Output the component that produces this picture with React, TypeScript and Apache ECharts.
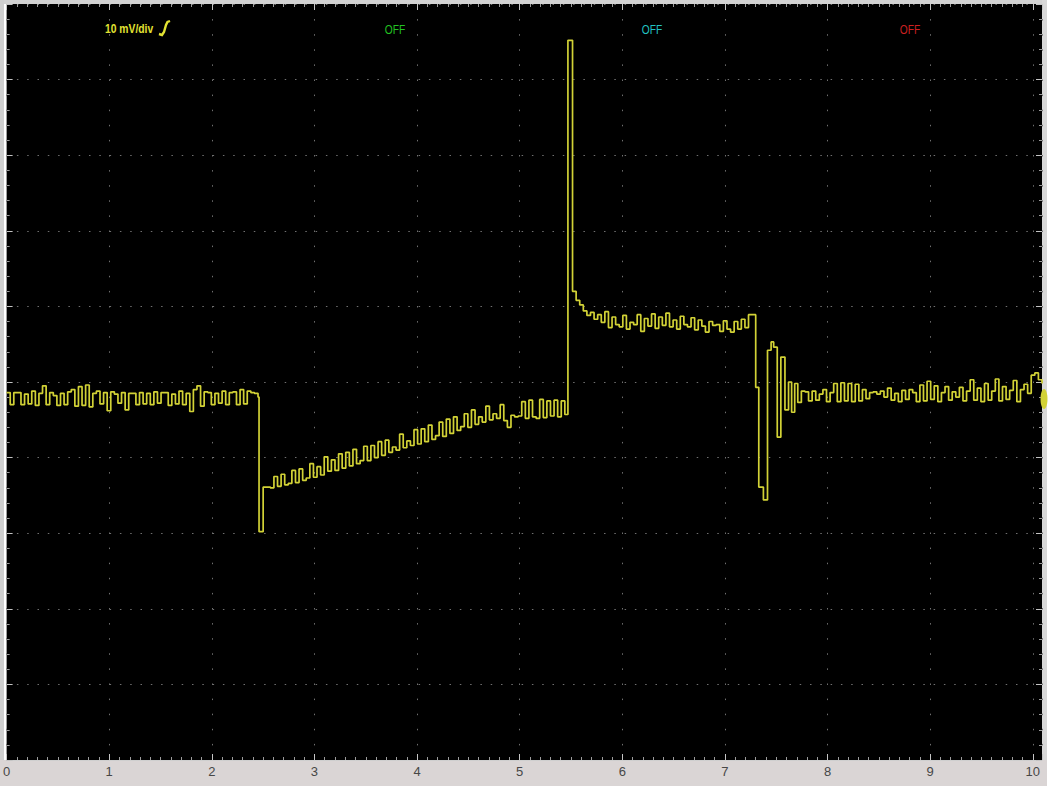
import React, { useEffect, useRef } from "react";
import * as echarts from "echarts";

// ---- data (time in divisions, amplitude in mV; 10 mV/div) ----
const seg1Start = 0;
const seg1Step = 0.035;
const seg1Values = [
  -1.4, -3.0, -1.4, -1.4, -3.0, -1.6, -2.9, -1.2, -3.1, -1.5,
  -0.5, -3.0, -1.4, -1.8, -3.1, -1.5, -3.0, -1.3, -1.0, -3.2,
  -0.6, -3.1, -0.4, -3.3, -1.5, -1.2, -2.9, -1.4, -3.8, -1.3,
  -1.6, -2.8, -1.4, -3.7, -1.5, -1.5, -3.0, -1.4, -2.9, -1.5,
  -3.0, -1.3, -2.8, -1.4, -1.4, -3.1, -1.6, -2.9, -1.2, -3.0,
  -1.5, -3.9, -1.0, -0.5, -3.2, -1.3, -1.4, -3.0, -1.5, -2.8,
  -1.2, -3.0, -1.4, -1.3, -3.0, -1.0, -2.9, -1.2, -1.4, -1.5,
  -2.0,
];
const dipTimes = [2.46, 2.5];
const dipValues = [-19.8, -13.9];
const rampStart = 2.535;
const rampStep = 0.035;
const rampValues = [
  -13.9, -14.0, -12.5, -13.8, -12.2, -13.6, -13.4, -11.7, -13.3, -11.5,
  -13.0, -12.7, -10.8, -12.6, -11.2, -12.3, -9.9, -11.8, -10.3, -11.7,
  -9.5, -11.4, -9.3, -11.1, -8.9, -10.8, -10.4, -8.5, -10.4, -8.4,
  -10.0, -7.9, -9.7, -7.7, -9.3, -8.6, -9.0, -6.9, -8.7, -7.8,
  -8.4, -6.3, -8.2, -6.2, -7.9, -5.7, -7.6, -7.1, -5.3, -7.2,
  -4.9, -6.8, -4.6, -6.4, -5.9, -4.2, -6.0, -3.7, -5.6, -4.6,
  -5.3, -3.2, -5.0, -4.2, -4.8, -3.0, -5.1, -6.0, -4.4, -4.6,
  -4.5, -2.6, -4.8, -2.4, -4.6, -4.8, -2.3, -4.7, -2.5, -4.5,
  -2.4, -4.6, -2.5, -4.3,
];
const spikeTimes = [5.47];
const spikeValues = [45.2];
const plateauStart = 5.515;
const plateauStep = 0.035;
const plateauValues = [
  12.0, 10.8, 10.2, 9.4, 8.8, 9.2, 8.3, 8.9, 7.9, 9.3,
  7.2, 8.6, 7.6, 7.3, 8.8, 7.0, 7.9, 7.6, 8.9, 6.7,
  8.4, 7.4, 9.0, 7.1, 8.6, 7.5, 9.1, 7.3, 8.2, 7.0,
  8.7, 7.6, 7.3, 8.5, 6.9, 8.2, 7.4, 6.6, 8.0, 7.5,
  7.6, 6.7, 8.1, 7.0, 6.6, 8.0, 7.0, 8.3, 7.2, 8.9,
  8.9,
];
const ringTimes = [7.3, 7.33, 7.375, 7.415, 7.45, 7.475, 7.51, 7.545, 7.585, 7.62, 7.65, 7.68, 7.71, 7.745];
const ringValues = [-0.7, -13.9, -15.6, 4.2, 5.3, 4.6, -7.3, 3.3, -3.7, 0.0, -4.0, -0.2, -2.7, -1.2];
const tailStart = 7.78;
const tailStep = 0.035;
const tailValues = [
  -1.3, -2.5, -1.2, -2.4, -1.6, -1.0, -2.6, -1.4, -0.2, -2.6,
  -0.1, -2.5, -0.2, -2.6, -0.3, -2.5, -1.0, -2.2, -1.4, -1.3,
  -1.6, -1.2, -2.0, -0.8, -2.4, -1.5, -2.6, -1.1, -2.3, -1.0,
  -1.4, -2.6, -0.4, -2.5, 0.1, -2.3, -0.5, -2.6, -1.4, -0.6,
  -2.4, -1.3, -2.0, -0.7, -2.5, -1.2, 0.3, -2.4, -0.8, -2.6,
  -0.2, -2.4, -1.2, 0.4, -2.5, -0.6, -2.3, -1.1, 0.2, -2.6,
  -1.0, -0.3, -1.5, 0.9, 1.2, 0.3, -0.2,
];
const xTickLabels = ["0", "1", "2", "3", "4", "5", "6", "7", "8", "9", "10"];
const scaleLabel = "10 mV/div";
const channelLabels = ["OFF", "OFF", "OFF"];
const channelColors = ["#22c322", "#22c3c3", "#cc2020"];

function seg(start: number, step: number, vals: number[]) {
  return vals.map((v, i) => [+(start + i * step).toFixed(4), v]);
}
function pairs(ts: number[], vs: number[]) {
  return ts.map((t, i) => [t, vs[i]]);
}

const traceData = [
  ...seg(seg1Start, seg1Step, seg1Values),
  ...pairs(dipTimes, dipValues),
  ...seg(rampStart, rampStep, rampValues),
  ...pairs(spikeTimes, spikeValues),
  ...seg(plateauStart, plateauStep, plateauValues),
  ...pairs(ringTimes, ringValues),
  ...seg(tailStart, tailStep, tailValues),
];

const NARROW = "'Liberation Sans Narrow', 'Arial Narrow', 'Liberation Sans', Arial, sans-serif";

export default function App() {
  const ref = useRef<HTMLDivElement>(null);
  useEffect(() => {
    if (!ref.current) return;
    const chart = echarts.init(ref.current, undefined, { renderer: "svg" });
    const tickStyle = { color: "#c4c4c4", width: 1 };
    const minorStyle = { color: "#9c9c9c", width: 1 };
    const option: any = {
      animation: false,
      backgroundColor: "#ffffff",
      grid: { left: 4, top: 4, width: 1038, height: 756, show: true, backgroundColor: "#000000", borderWidth: 0 },
      xAxis: [
        {
          type: "value", min: 0, max: 10.09, interval: 1, position: "bottom",
          axisLine: { show: true, onZero: false, lineStyle: { color: "#cfcfcf", width: 1 } },
          axisTick: { show: true, inside: true, length: 6, lineStyle: tickStyle },
          minorTick: { show: true, splitNumber: 10, length: 3, lineStyle: minorStyle },
          axisLabel: {
            margin: 5, color: "#474747", fontSize: 13, fontFamily: NARROW,
            formatter: (v: number) => {
              const r = Math.round(v);
              return Math.abs(v - r) < 1e-6 && r >= 0 && r <= 10 ? xTickLabels[r] : "";
            },
          },
          splitLine: { show: true, lineStyle: { color: "#707070", width: 1, type: [1.5, 13.6] } },
        },
        {
          type: "value", min: 0, max: 10.09, interval: 1, position: "top",
          axisLine: { show: false, onZero: false },
          axisTick: { show: true, inside: true, length: 6, lineStyle: tickStyle },
          minorTick: { show: true, splitNumber: 10, length: 3, lineStyle: minorStyle },
          axisLabel: { show: false },
          splitLine: { show: false },
        },
      ],
      yAxis: [
        {
          type: "value", min: -50, max: 50, interval: 10, position: "left",
          axisLine: { show: false, onZero: false },
          axisTick: { show: true, inside: true, length: 6, lineStyle: tickStyle },
          minorTick: { show: true, splitNumber: 5, length: 3, lineStyle: minorStyle },
          axisLabel: { show: false },
          splitLine: { show: true, lineStyle: { color: "#707070", width: 1, type: [1.5, 8.8] } },
        },
        {
          type: "value", min: -50, max: 50, interval: 10, position: "right",
          axisLine: { show: false, onZero: false },
          axisTick: { show: true, inside: true, length: 6, lineStyle: tickStyle },
          minorTick: { show: true, splitNumber: 5, length: 3, lineStyle: minorStyle },
          axisLabel: { show: false },
          splitLine: { show: false },
        },
      ],
      series: [
        {
          type: "line", xAxisIndex: 0, yAxisIndex: 0, step: "end",
          showSymbol: false, symbol: "none", clip: true,
          data: traceData,
          lineStyle: { color: "#d2d236", width: 1.7 },
          z: 5,
        },
      ],
      graphic: [
        { type: "rect", shape: { x: 0, y: 0, width: 1047, height: 4 }, style: { fill: "#d2d2d2" }, z: -1 },
        { type: "rect", shape: { x: 0, y: 0, width: 4, height: 760 }, style: { fill: "#cfcfcf" }, z: -1 },
        { type: "rect", shape: { x: 1042, y: 0, width: 5, height: 786 }, style: { fill: "#d8d8d8" }, z: -1 },
        { type: "rect", shape: { x: 0, y: 760, width: 1047, height: 26 }, style: { fill: "#dad5d5" }, z: -1 },
        { type: "ellipse", shape: { cx: 1044, cy: 399, rx: 3.5, ry: 10 }, style: { fill: "#d2d236" }, z: 10 },
        {
          type: "text", x: 105, y: 29, z: 10, scaleX: 0.86,
          style: { text: scaleLabel, fill: "#e2e232", font: `bold 12px ${NARROW}`, textAlign: "left", textVerticalAlign: "middle" },
        },
        {
          type: "polyline", z: 10,
          shape: { points: [[159, 34], [162, 35], [164, 32], [166, 25], [167.5, 22], [170, 21]] },
          style: { stroke: "#e2e232", lineWidth: 2.4, fill: null },
        },
        ...channelLabels.map((t, i) => ({
          type: "text", x: [395, 652, 910][i], y: 30, z: 10, scaleX: 0.85,
          style: { text: t, fill: channelColors[i], font: `12px ${NARROW}`, textAlign: "center", textVerticalAlign: "middle" },
        })),
      ],
    };
    chart.setOption(option);
    return () => chart.dispose();
  }, []);
  return (
    <div
      ref={ref}
      style={{ position: "fixed", left: 0, top: 0, width: 1060, height: 786, background: "#ffffff" }}
    />
  );
}
